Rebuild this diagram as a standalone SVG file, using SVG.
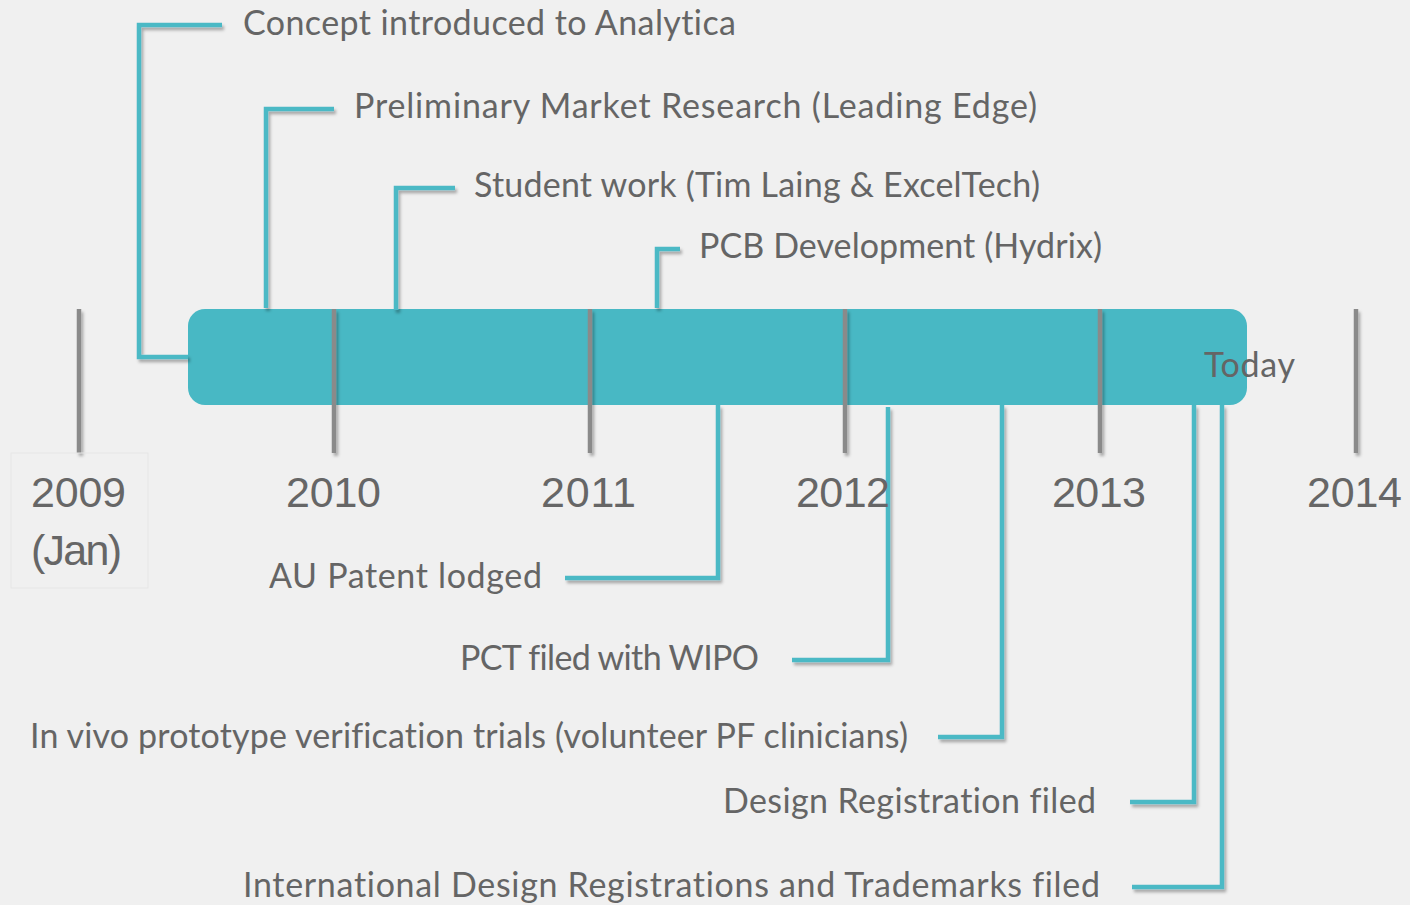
<svg xmlns="http://www.w3.org/2000/svg" width="1410" height="905" viewBox="0 0 1410 905">
<defs>
<filter id="sh" x="-20%" y="-20%" width="140%" height="140%">
<feDropShadow dx="2" dy="3" stdDeviation="1.5" flood-color="#000" flood-opacity="0.3"/>
</filter>
<style>
.lbl{font-family:Lato,"Open Sans","Liberation Sans",sans-serif;font-size:34px;fill:#656565;font-variant-ligatures:none}
.yr{font-family:"Liberation Sans",Arial,sans-serif;font-size:43px;fill:#666666}
.tick{stroke:#8a8a8a;stroke-width:4.5;fill:none}
.con{stroke:#4BB9C5;stroke-width:4.5;fill:none;stroke-linejoin:miter}
</style>
</defs>
<rect x="0" y="0" width="1410" height="905" fill="#F0F0F0"/>
<g id="bar">
<rect x="188" y="309" width="1059" height="96" rx="17" ry="17" fill="#48B8C4"/>
</g>
<g id="connectors" filter="url(#sh)">
<path class="con" d="M188 357 H139 V25 H222"/>
<path class="con" d="M266 308 V109 H334"/>
<path class="con" d="M396 310 V188 H455"/>
<path class="con" d="M657 308 V249 H680"/>
<path class="con" d="M718 405 V578 H565"/>
<path class="con" d="M888 407 V660 H792"/>
<path class="con" d="M1002 405 V737 H938"/>
<path class="con" d="M1194 405 V802 H1130"/>
<path class="con" d="M1222 405 V887 H1132"/>
</g>
<g id="ticks" filter="url(#sh)">
<line class="tick" x1="79" y1="309" x2="79" y2="453"/>
<line class="tick" x1="334" y1="309" x2="334" y2="453"/>
<line class="tick" x1="590" y1="309" x2="590" y2="453"/>
<line class="tick" x1="845" y1="309" x2="845" y2="453"/>
<line class="tick" x1="1100" y1="309" x2="1100" y2="453"/>
<line class="tick" x1="1356" y1="309" x2="1356" y2="453"/>
</g>
<g id="year-2009">
<rect x="11" y="453" width="137" height="135" fill="none" stroke="#e6e6e6" stroke-width="1"/>
<text class="yr" x="31" y="507" textLength="95">2009</text>
<text class="yr" x="31" y="565" textLength="91">(Jan)</text>
</g>
<g id="year-2010"><text class="yr" x="286" y="507" textLength="95">2010</text></g>
<g id="year-2011"><text class="yr" x="541" y="507" textLength="95">2011</text></g>
<g id="year-2012"><text class="yr" x="796" y="507" textLength="94">2012</text></g>
<g id="year-2013"><text class="yr" x="1052" y="507" textLength="94">2013</text></g>
<g id="year-2014"><text class="yr" x="1307" y="507" textLength="95">2014</text></g>
<g id="today"><text class="lbl" x="1204" y="377" textLength="91">Today</text></g>
<g id="concept"><text class="lbl" x="243" y="35" textLength="493">Concept introduced to Analytica</text></g>
<g id="preliminary"><text class="lbl" x="354" y="118" textLength="683">Preliminary Market Research (Leading Edge)</text></g>
<g id="student"><text class="lbl" x="474" y="197" textLength="566">Student work (Tim Laing &amp; ExcelTech)</text></g>
<g id="pcb"><text class="lbl" x="699" y="258" textLength="403">PCB Development (Hydrix)</text></g>
<g id="au-patent"><text class="lbl" x="269" y="588" textLength="273">AU Patent lodged</text></g>
<g id="pct"><text class="lbl" x="460" y="670" textLength="299">PCT filed with WIPO</text></g>
<g id="in-vivo"><text class="lbl" x="30" y="748" textLength="878">In vivo prototype verification trials (volunteer PF clinicians)</text></g>
<g id="design-reg"><text class="lbl" x="723" y="813" textLength="373">Design Registration filed</text></g>
<g id="international"><text class="lbl" x="243" y="897" textLength="857">International Design Registrations and Trademarks filed</text></g>
</svg>
